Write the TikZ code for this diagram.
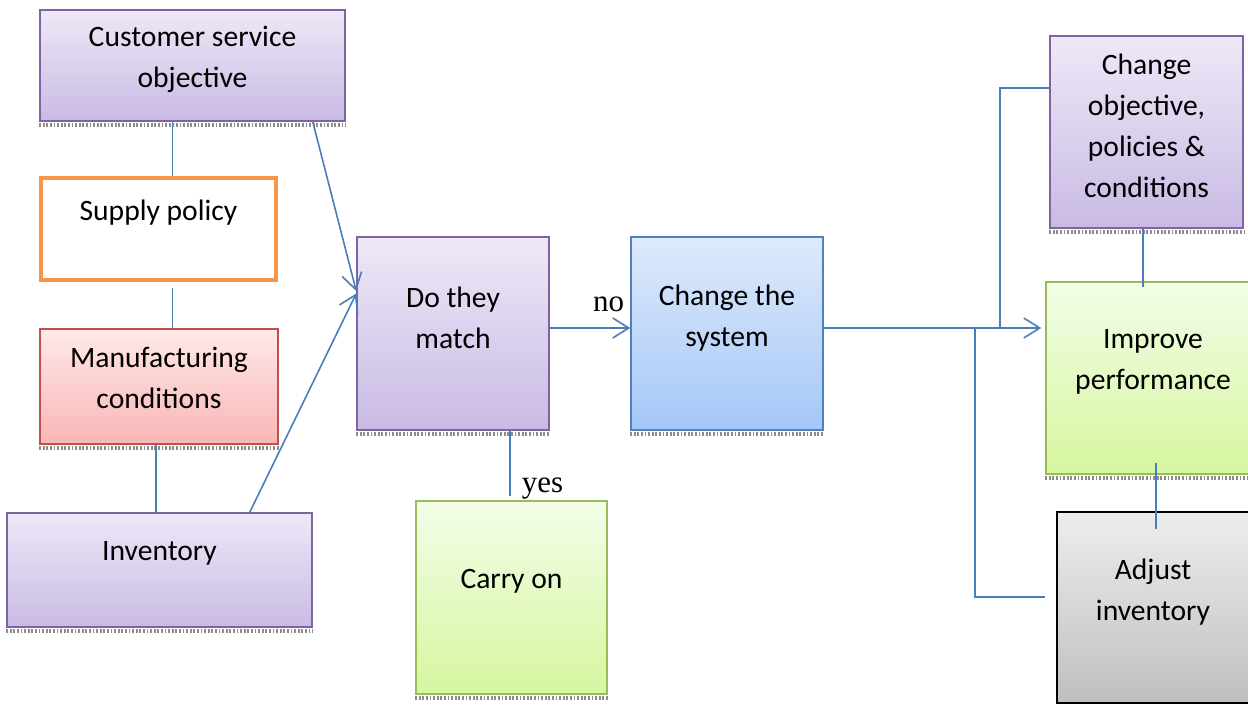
\documentclass[tikz,border=0pt]{standalone}
\usepackage{fontspec}
\setmainfont{Carlito}
\newfontfamily\notefont{Liberation Serif}
\usepackage{tikz}
\usetikzlibrary{arrows.meta}
\definecolor{linkblue}{RGB}{74,126,187}
\definecolor{purpleline}{RGB}{128,100,162}
\definecolor{purpletop}{RGB}{238,232,247}
\definecolor{purplebot}{RGB}{201,186,228}
\definecolor{redline}{RGB}{192,80,77}
\definecolor{redtop}{RGB}{255,232,232}
\definecolor{redbot}{RGB}{249,182,182}
\definecolor{greenline}{RGB}{155,187,89}
\definecolor{greentop}{RGB}{243,253,232}
\definecolor{greenbot}{RGB}{214,246,160}
\definecolor{blueline}{RGB}{79,129,189}
\definecolor{bluetop}{RGB}{222,234,252}
\definecolor{bluebot}{RGB}{164,199,247}
\definecolor{orangeline}{RGB}{247,150,70}
\tikzstyle{bt} = [rectangle, draw, line width=0.75pt, inner sep=0pt]
\tikzstyle{pbox} = [bt, draw=purpleline, top color=purpletop, bottom color=purplebot]
\tikzstyle{rbox} = [bt, draw=redline, top color=redtop, bottom color=redbot]
\tikzstyle{gbox} = [bt, draw=greenline, top color=greentop, bottom color=greenbot]
\tikzstyle{bbox} = [bt, draw=blueline, top color=bluetop, bottom color=bluebot]
\tikzstyle{kbox} = [bt, draw=black, top color=black!7, bottom color=black!25]
\tikzstyle{obox} = [bt, draw=orangeline, line width=2pt, fill=white]
\tikzstyle{sq} = [minimum width=96pt, minimum height=96.5pt]
\tikzstyle{lbl} = [align=center, font=\fontsize{14.8pt}{20.5pt}\selectfont]
\tikzstyle{note} = [font=\notefont\fontsize{15.5pt}{18pt}\selectfont]
\tikzstyle{link} = [draw=linkblue, line width=0.8pt]
\tikzstyle{zig} = [draw=black!45, line width=1.8pt, dash pattern=on 0.9pt off 0.9pt]

\begin{document}
\begin{tikzpicture}[x=0.5pt,y=-0.5pt,>={Straight Barb[length=8pt,width=10pt]},
                    node distance=137pt]
  \useasboundingbox (0,0) rectangle (1248,705);

  % left column
  \node[pbox,minimum width=152.5pt,minimum height=55.5pt,
        label={[lbl,yshift=3.25pt]center:{Customer service\\objective}}] (cso) at (192.5,65.5) {};
  \node[obox,minimum width=117.5pt,minimum height=51pt,
        label={[lbl,yshift=8pt]center:{Supply policy}}] (sup) at (158.5,229) {};
  \node[rbox,minimum width=119pt,minimum height=57.5pt,
        label={[lbl,yshift=4.25pt]center:{Manufacturing\\conditions}}] (mfg) at (159,386.5) {};
  \node[pbox,minimum width=152.5pt,minimum height=57pt,
        label={[lbl,yshift=8.5pt]center:{Inventory}}] (inv) at (159.5,570) {};

  % middle
  \node[pbox,sq,label={[lbl,yshift=8pt]center:{Do they\\match}}] (match) at (453,333.5) {};
  \node[bbox,sq,label={[lbl,yshift=7.75pt]center:{Change the\\system}}] (chsys) [right of=match] {};
  \node[gbox,sq,minimum width=95.5pt,label={[lbl,yshift=8.25pt]center:{Carry on}}]
        (carry) [below of=match,xshift=29.25pt,yshift=5pt] {};

  % right column
  \node[pbox,minimum width=96.5pt,minimum height=96pt,
        label={[lbl,yshift=3pt]center:{Change\\objective,\\policies \&\\conditions}}] (chobj) at (1146.5,132) {};
  \node[gbox,minimum width=107pt,minimum height=96pt,
        label={[lbl,yshift=8pt]center:{Improve\\performance}}] (impr) at (1153,378) {};
  \node[kbox,minimum width=96pt,minimum height=95.5pt,
        label={[lbl,yshift=7.5pt]center:{Adjust\\inventory}}] (adj) at (1153,607.5) {};

  \foreach \b in {cso,mfg,inv,match,carry,chsys,chobj,impr}
    \draw[zig] ([yshift=-1.6pt]\b.south west) -- ([yshift=-1.6pt]\b.south east);

  \coordinate (forkup) at (1000,328);
  \coordinate (forkdn) at (975,328);

  \path[link] ([xshift=7pt]sup.north) edge ([xshift=7pt]sup.north |- cso.south)
  ([xshift=7pt]sup.south) edge[shorten <=3pt] ([xshift=7pt]sup.south |- mfg.north)
  ([xshift=-1.5pt]mfg.south) edge ([xshift=-1.5pt]mfg.south |- inv.north)
  ([xshift=-16.5pt]cso.south east) edge[->] ([yshift=21.25pt]match.west)
  ([xshift=-31.5pt]inv.north east) edge[->] ([yshift=20pt]match.west)
  ([yshift=2.75pt]match.east) edge[->] node[note,above=4.5pt,pos=0.73] {no}
      ([yshift=2.75pt]match.east -| chsys.west)
  ([xshift=28.5pt]match.south) edge[shorten >=2pt]
      node[note,pos=1,anchor=south west,inner sep=0pt,xshift=5.5pt] {yes}
      ([xshift=28.5pt]match.south |- carry.north)
  ([yshift=2.75pt]chsys.east) edge[->,shorten >=2pt] ([yshift=2.75pt]chsys.east -| impr.west)
  ([xshift=-1.75pt]chobj.south) edge[shorten >=-3pt] ([xshift=-1.75pt]chobj.south |- impr.north)
  ([xshift=1.5pt]impr.south) edge[shorten <=-6pt,shorten >=-9pt] ([xshift=1.5pt]impr.south |- adj.north);

  \draw[link] (forkup) |- ([yshift=22pt]chobj.west);
  \draw[link,shorten >=5.5pt] (forkdn) |- ([yshift=5.25pt]adj.west);
\end{tikzpicture}
\end{document}
